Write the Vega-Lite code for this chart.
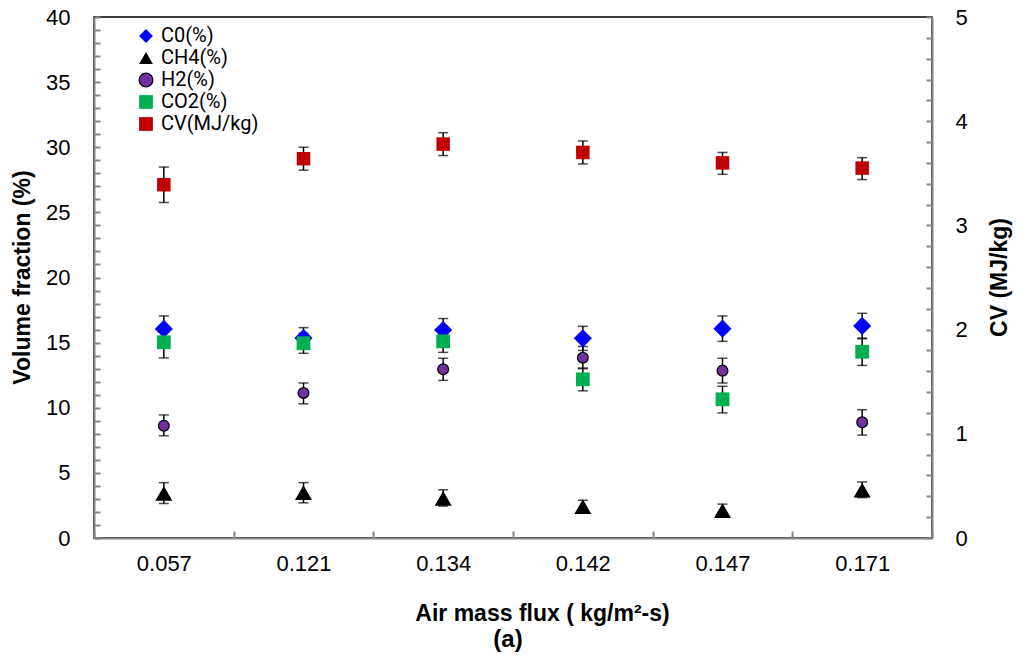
{
  "$schema": "https://vega.github.io/schema/vega-lite/v6.json",
  "width": 838,
  "height": 521,
  "autosize": {"type": "none"},
  "padding": {"left": 94, "top": 17, "right": 99, "bottom": 125},
  "background": "white",
  "title": {"text": "(a)", "orient": "bottom", "anchor": "middle", "font": "Liberation Sans", "fontSize": 24, "fontWeight": "bold", "color": "black", "offset": 3, "dx": -5},
  "config": {
    "view": {"stroke": "black", "strokeWidth": 1.5},
    "axis": {"grid": false, "domainColor": "#868686", "domainWidth": 2, "tickColor": "#868686", "tickWidth": 2, "labelFont": "Liberation Sans", "labelFontSize": 22, "labelColor": "black", "titleFont": "Liberation Sans", "titleFontSize": 23, "titleFontWeight": "bold", "titleColor": "black"},
    "legend": {"labelFont": "Roboto", "labelFontSize": 20, "labelColor": "black", "rowPadding": 2, "symbolStrokeWidth": 1.3, "symbolSize": 190, "labelOffset": 5}
  },
  "data": {"values": [
    {"x": "0.057", "series": "C0(%)", "value": 16.05, "lo": 15.05, "hi": 17.05},
    {"x": "0.121", "series": "C0(%)", "value": 15.35, "lo": 14.55, "hi": 16.15},
    {"x": "0.134", "series": "C0(%)", "value": 15.97, "lo": 15.1, "hi": 16.85},
    {"x": "0.142", "series": "C0(%)", "value": 15.33, "lo": 14.4, "hi": 16.25},
    {"x": "0.147", "series": "C0(%)", "value": 16.07, "lo": 15.1, "hi": 17.05},
    {"x": "0.171", "series": "C0(%)", "value": 16.28, "lo": 15.3, "hi": 17.25},
    {"x": "0.057", "series": "CH4(%)", "value": 3.43, "lo": 2.65, "hi": 4.25},
    {"x": "0.121", "series": "CH4(%)", "value": 3.48, "lo": 2.7, "hi": 4.25},
    {"x": "0.134", "series": "CH4(%)", "value": 3.05, "lo": 2.45, "hi": 3.7},
    {"x": "0.142", "series": "CH4(%)", "value": 2.4, "lo": 1.9, "hi": 2.9},
    {"x": "0.147", "series": "CH4(%)", "value": 2.1, "lo": 1.6, "hi": 2.6},
    {"x": "0.171", "series": "CH4(%)", "value": 3.68, "lo": 3.1, "hi": 4.3},
    {"x": "0.057", "series": "H2(%)", "value": 8.62, "lo": 7.85, "hi": 9.45},
    {"x": "0.121", "series": "H2(%)", "value": 11.13, "lo": 10.3, "hi": 11.9},
    {"x": "0.134", "series": "H2(%)", "value": 12.95, "lo": 12.1, "hi": 13.8},
    {"x": "0.142", "series": "H2(%)", "value": 13.84, "lo": 13.0, "hi": 14.7},
    {"x": "0.147", "series": "H2(%)", "value": 12.85, "lo": 11.9, "hi": 13.8},
    {"x": "0.171", "series": "H2(%)", "value": 8.88, "lo": 7.9, "hi": 9.85},
    {"x": "0.057", "series": "CO2(%)", "value": 15.03, "lo": 13.83, "hi": 16.23},
    {"x": "0.121", "series": "CO2(%)", "value": 14.95, "lo": 14.18, "hi": 15.72},
    {"x": "0.134", "series": "CO2(%)", "value": 15.1, "lo": 14.25, "hi": 15.95},
    {"x": "0.142", "series": "CO2(%)", "value": 12.18, "lo": 11.3, "hi": 13.05},
    {"x": "0.147", "series": "CO2(%)", "value": 10.65, "lo": 9.6, "hi": 11.65},
    {"x": "0.171", "series": "CO2(%)", "value": 14.3, "lo": 13.25, "hi": 15.35},
    {"x": "0.057", "series": "CV(MJ/kg)", "value": 3.39, "lo": 3.22, "hi": 3.56},
    {"x": "0.121", "series": "CV(MJ/kg)", "value": 3.64, "lo": 3.53, "hi": 3.75},
    {"x": "0.134", "series": "CV(MJ/kg)", "value": 3.78, "lo": 3.67, "hi": 3.89},
    {"x": "0.142", "series": "CV(MJ/kg)", "value": 3.7, "lo": 3.59, "hi": 3.81},
    {"x": "0.147", "series": "CV(MJ/kg)", "value": 3.6, "lo": 3.49, "hi": 3.7},
    {"x": "0.171", "series": "CV(MJ/kg)", "value": 3.55, "lo": 3.44, "hi": 3.65}
  ]},
  "encoding": {
    "x": {"field": "x", "type": "ordinal", "sort": null,
      "scale": {"type": "band", "paddingInner": 0, "paddingOuter": 0},
      "axis": {"title": "Air mass flux ( kg/m²-s)", "labelAngle": 0, "tickBand": "extent", "tickSize": -7, "labelPadding": 22, "titleX": 448, "titleY": 82, "titleAlign": "center", "titleBaseline": "alphabetic"}}
  },
  "layer": [
    {
      "transform": [{"filter": "datum.series !== 'CV(MJ/kg)'"}],
      "layer": [
        {"mark": {"type": "rule", "color": "black", "strokeWidth": 1.5},
         "encoding": {
           "y": {"field": "lo", "type": "quantitative", "scale": {"domain": [0, 40], "nice": false},
             "axis": {"title": "Volume fraction (%)", "orient": "left",
               "values": [0,1,2,3,4,5,6,7,8,9,10,11,12,13,14,15,16,17,18,19,20,21,22,23,24,25,26,27,28,29,30,31,32,33,34,35,36,37,38,39,40],
               "labelExpr": "datum.value % 5 === 0 ? datum.label : ''", "labelOverlap": false, "labelFlush": false,
               "tickSize": -6, "labelPadding": 30, "titleX": -72, "titleY": 260, "titleBaseline": "middle", "titleAngle": 270}},
           "y2": {"field": "hi"}}},
        {"mark": {"type": "tick", "color": "black", "size": 10, "thickness": 1.5},
         "encoding": {"y": {"field": "lo", "type": "quantitative",
             "axis": {"title": "Volume fraction (%)", "orient": "left",
               "values": [0,1,2,3,4,5,6,7,8,9,10,11,12,13,14,15,16,17,18,19,20,21,22,23,24,25,26,27,28,29,30,31,32,33,34,35,36,37,38,39,40],
               "labelExpr": "datum.value % 5 === 0 ? datum.label : ''", "labelOverlap": false, "labelFlush": false,
               "tickSize": -6, "labelPadding": 30, "titleX": -72, "titleY": 260, "titleBaseline": "middle", "titleAngle": 270}}}},
        {"mark": {"type": "tick", "color": "black", "size": 10, "thickness": 1.5},
         "encoding": {"y": {"field": "hi", "type": "quantitative",
             "axis": {"title": "Volume fraction (%)", "orient": "left",
               "values": [0,1,2,3,4,5,6,7,8,9,10,11,12,13,14,15,16,17,18,19,20,21,22,23,24,25,26,27,28,29,30,31,32,33,34,35,36,37,38,39,40],
               "labelExpr": "datum.value % 5 === 0 ? datum.label : ''", "labelOverlap": false, "labelFlush": false,
               "tickSize": -6, "labelPadding": 30, "titleX": -72, "titleY": 260, "titleBaseline": "middle", "titleAngle": 270}}}},
        {"mark": {"type": "point", "filled": true, "opacity": 1, "strokeWidth": 1.3},
         "encoding": {
           "y": {"field": "value", "type": "quantitative",
             "axis": {"title": "Volume fraction (%)", "orient": "left",
               "values": [0,1,2,3,4,5,6,7,8,9,10,11,12,13,14,15,16,17,18,19,20,21,22,23,24,25,26,27,28,29,30,31,32,33,34,35,36,37,38,39,40],
               "labelExpr": "datum.value % 5 === 0 ? datum.label : ''", "labelOverlap": false, "labelFlush": false,
               "tickSize": -6, "labelPadding": 30, "titleX": -72, "titleY": 260, "titleBaseline": "middle", "titleAngle": 270}},
           "color": {"field": "series", "type": "nominal", "title": null,
             "scale": {"domain": ["C0(%)", "CH4(%)", "H2(%)", "CO2(%)", "CV(MJ/kg)"], "range": ["#0000FF", "#000000", "#7030A0", "#00B050", "#C00000"]},
             "legend": {"orient": "none", "legendX": 42, "legendY": 9}},
           "shape": {"field": "series", "type": "nominal", "title": null,
             "scale": {"domain": ["C0(%)", "CH4(%)", "H2(%)", "CO2(%)", "CV(MJ/kg)"], "range": ["diamond", "triangle-up", "circle", "square", "square"]}},
           "stroke": {"field": "series", "type": "nominal", "title": null,
             "scale": {"domain": ["C0(%)", "CH4(%)", "H2(%)", "CO2(%)", "CV(MJ/kg)"], "range": ["rgba(0,0,0,0)", "rgba(0,0,0,0)", "#000000", "rgba(0,0,0,0)", "rgba(0,0,0,0)"]}},
           "size": {"field": "series", "type": "nominal", "title": null, "legend": null,
             "scale": {"type": "ordinal", "domain": ["C0(%)", "CH4(%)", "H2(%)", "CO2(%)", "CV(MJ/kg)"], "range": [330, 290, 115, 190, 190]}}
         }}
      ]
    },
    {
      "transform": [{"filter": "datum.series === 'CV(MJ/kg)'"}],
      "layer": [
        {"mark": {"type": "rule", "color": "black", "strokeWidth": 1.5},
         "encoding": {
           "y": {"field": "lo", "type": "quantitative", "scale": {"domain": [0, 5], "nice": false},
             "axis": {"title": "CV (MJ/kg)", "orient": "right",
               "values": [0,0.2,0.4,0.6,0.8,1,1.2,1.4,1.6,1.8,2,2.2,2.4,2.6,2.8,3,3.2,3.4,3.6,3.8,4,4.2,4.4,4.6,4.8,5],
               "labelExpr": "datum.value % 1 === 0 ? format(datum.value, 'd') : ''", "labelOverlap": false, "labelFlush": false,
               "tickSize": -6, "labelPadding": 29, "titleX": 67, "titleY": 260, "titleBaseline": "middle", "titleAngle": 270}},
           "y2": {"field": "hi"}}},
        {"mark": {"type": "tick", "color": "black", "size": 10, "thickness": 1.5},
         "encoding": {"y": {"field": "lo", "type": "quantitative",
             "axis": {"title": "CV (MJ/kg)", "orient": "right",
               "values": [0,0.2,0.4,0.6,0.8,1,1.2,1.4,1.6,1.8,2,2.2,2.4,2.6,2.8,3,3.2,3.4,3.6,3.8,4,4.2,4.4,4.6,4.8,5],
               "labelExpr": "datum.value % 1 === 0 ? format(datum.value, 'd') : ''", "labelOverlap": false, "labelFlush": false,
               "tickSize": -6, "labelPadding": 29, "titleX": 67, "titleY": 260, "titleBaseline": "middle", "titleAngle": 270}}}},
        {"mark": {"type": "tick", "color": "black", "size": 10, "thickness": 1.5},
         "encoding": {"y": {"field": "hi", "type": "quantitative",
             "axis": {"title": "CV (MJ/kg)", "orient": "right",
               "values": [0,0.2,0.4,0.6,0.8,1,1.2,1.4,1.6,1.8,2,2.2,2.4,2.6,2.8,3,3.2,3.4,3.6,3.8,4,4.2,4.4,4.6,4.8,5],
               "labelExpr": "datum.value % 1 === 0 ? format(datum.value, 'd') : ''", "labelOverlap": false, "labelFlush": false,
               "tickSize": -6, "labelPadding": 29, "titleX": 67, "titleY": 260, "titleBaseline": "middle", "titleAngle": 270}}}},
        {"mark": {"type": "point", "filled": true, "opacity": 1, "strokeWidth": 1.3},
         "encoding": {
           "y": {"field": "value", "type": "quantitative",
             "axis": {"title": "CV (MJ/kg)", "orient": "right",
               "values": [0,0.2,0.4,0.6,0.8,1,1.2,1.4,1.6,1.8,2,2.2,2.4,2.6,2.8,3,3.2,3.4,3.6,3.8,4,4.2,4.4,4.6,4.8,5],
               "labelExpr": "datum.value % 1 === 0 ? format(datum.value, 'd') : ''", "labelOverlap": false, "labelFlush": false,
               "tickSize": -6, "labelPadding": 29, "titleX": 67, "titleY": 260, "titleBaseline": "middle", "titleAngle": 270}},
           "color": {"field": "series", "type": "nominal", "title": null},
           "shape": {"field": "series", "type": "nominal", "title": null},
           "stroke": {"field": "series", "type": "nominal", "title": null},
           "size": {"field": "series", "type": "nominal", "title": null, "legend": null}
         }}
      ]
    }
  ],
  "resolve": {"scale": {"y": "independent"}}
}
